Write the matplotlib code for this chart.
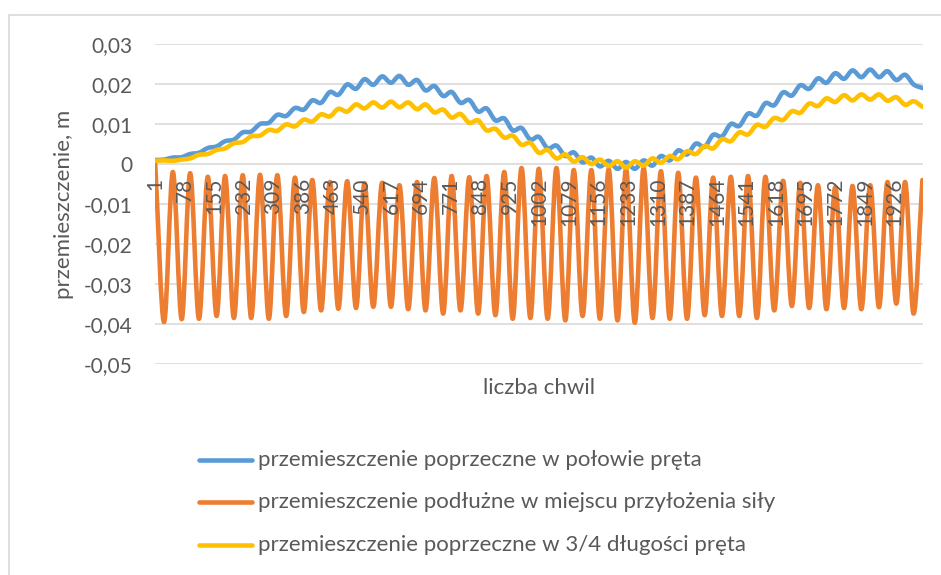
import matplotlib
matplotlib.use("Agg")  # headless
import matplotlib.pyplot as plt
from matplotlib.lines import Line2D
from matplotlib.patches import Rectangle, PathPatch
from matplotlib.path import Path

# sample indices (chwile) at the extremes of the fast oscillation
chwila = [1, 24, 47, 70, 92, 115, 138, 161, 183, 206, 229, 251, 274, 297, 319,
          342, 365, 388, 410, 433, 456, 478, 501, 524, 546, 569, 592, 615, 637,
          660, 683, 705, 728, 751, 773, 796, 819, 842, 864, 887, 910, 932, 955,
          978, 1000, 1023, 1046, 1069, 1091, 1114, 1137, 1159, 1182, 1205, 1227,
          1250, 1273, 1296, 1318, 1341, 1363, 1386, 1409, 1432, 1454, 1477, 1500,
          1522, 1545, 1568, 1590, 1613, 1636, 1659, 1681, 1704, 1727, 1749, 1772,
          1795, 1817, 1840, 1863, 1886, 1908, 1931, 1954, 1976, 1999]

# przemieszczenie poprzeczne w polowie preta
polowa = [0.0010, 0.0011, 0.0016, 0.0017, 0.0025, 0.0028, 0.0040, 0.0044, 0.0057,
          0.0061, 0.0079, 0.0081, 0.0100, 0.0103, 0.0123, 0.0120, 0.0140, 0.0136,
          0.0159, 0.0153, 0.0180, 0.0173, 0.0199, 0.0188, 0.0212, 0.0198, 0.0219,
          0.0203, 0.0220, 0.0198, 0.0210, 0.0184, 0.0195, 0.0170, 0.0180, 0.0153,
          0.0160, 0.0131, 0.0139, 0.0109, 0.0114, 0.0084, 0.0090, 0.0061, 0.0068,
          0.0039, 0.0046, 0.0020, 0.0029, 0.0004, 0.0016, -0.0006, 0.0008, -0.0012,
          0.0005, -0.0012, 0.0009, -0.0004, 0.0020, 0.0009, 0.0034, 0.0024, 0.0051,
          0.0043, 0.0073, 0.0069, 0.0100, 0.0095, 0.0126, 0.0121, 0.0152, 0.0147,
          0.0179, 0.0171, 0.0197, 0.0188, 0.0214, 0.0203, 0.0227, 0.0213, 0.0234,
          0.0217, 0.0236, 0.0217, 0.0232, 0.0210, 0.0223, 0.0199, 0.0190]

# przemieszczenie podluzne w miejscu przylozenia sily
podluzne = [0.0, -0.0395, -0.0020, -0.0388, -0.0023, -0.0387, -0.0032, -0.0380,
            -0.0030, -0.0385, -0.0028, -0.0385, -0.0027, -0.0387, -0.0028, -0.0380,
            -0.0034, -0.0370, -0.0040, -0.0366, -0.0045, -0.0362, -0.0043, -0.0360,
            -0.0048, -0.0357, -0.0047, -0.0357, -0.0053, -0.0363, -0.0045, -0.0366,
            -0.0035, -0.0374, -0.0030, -0.0366, -0.0033, -0.0374, -0.0030, -0.0378,
            -0.0020, -0.0387, -0.0010, -0.0385, -0.0012, -0.0387, -0.0010, -0.0391,
            -0.0015, -0.0380, -0.0015, -0.0387, -0.0013, -0.0391, -0.0012, -0.0397,
            -0.0010, -0.0385, -0.0018, -0.0387, -0.0022, -0.0387, -0.0034, -0.0378,
            -0.0034, -0.0380, -0.0032, -0.0380, -0.0030, -0.0385, -0.0032, -0.0366,
            -0.0042, -0.0355, -0.0047, -0.0360, -0.0053, -0.0363, -0.0058, -0.0360,
            -0.0055, -0.0363, -0.0053, -0.0358, -0.0045, -0.0349, -0.0045, -0.0374,
            -0.0040]

# przemieszczenie poprzeczne w 3/4 dlugosci preta
trzy_czwarte = [0.0008, 0.0009, 0.0008, 0.0011, 0.0014, 0.0023, 0.0025, 0.0035,
                0.0039, 0.0052, 0.0055, 0.0069, 0.0071, 0.0085, 0.0083, 0.0099,
                0.0094, 0.0111, 0.0106, 0.0124, 0.0119, 0.0138, 0.0131, 0.0149,
                0.0139, 0.0154, 0.0141, 0.0156, 0.0142, 0.0154, 0.0137, 0.0149,
                0.0129, 0.0136, 0.0116, 0.0125, 0.0103, 0.0109, 0.0084, 0.0088,
                0.0066, 0.0071, 0.0048, 0.0053, 0.0028, 0.0035, 0.0014, 0.0024,
                0.0006, 0.0017, 0.0000, 0.0011, -0.0005, 0.0007, -0.0009, 0.0007,
                -0.0004, 0.0014, 0.0003, 0.0020, 0.0012, 0.0032, 0.0025, 0.0045,
                0.0039, 0.0062, 0.0057, 0.0079, 0.0074, 0.0098, 0.0093, 0.0115,
                0.0110, 0.0132, 0.0128, 0.0151, 0.0145, 0.0164, 0.0155, 0.0172,
                0.0159, 0.0174, 0.0161, 0.0174, 0.0158, 0.0167, 0.0148, 0.0157,
                0.0143]

series_names = ["przemieszczenie poprzeczne w połowie pręta",
                "przemieszczenie podłużne w miejscu przyłożenia siły",
                "przemieszczenie poprzeczne w 3/4 długości pręta"]
series_colors = ["#5B9BD5", "#ED7D31", "#FFC000"]

x_ticks = [1, 78, 155, 232, 309, 386, 463, 540, 617, 694, 771, 848, 925, 1002,
           1079, 1156, 1233, 1310, 1387, 1464, 1541, 1618, 1695, 1772, 1849, 1926]
y_ticks = [-0.05, -0.04, -0.03, -0.02, -0.01, 0.0, 0.01, 0.02, 0.03]
y_labels = ["-0,05", "-0,04", "-0,03", "-0,02", "-0,01", "0", "0,01", "0,02", "0,03"]

TXT = "#595959"
GRID = "#D9D9D9"
FS = 16        # titles and legend
FS_TICK = 15   # tick labels
LW = 3.3
W, H = 941, 575


def smooth_path(xs, ys):
    # smoothed line (like Excel's "smoothed line"): cubic Bezier segments
    n = len(xs)
    slopes = []
    for i in range(n):
        a, b = max(i - 1, 0), min(i + 1, n - 1)
        slopes.append((ys[b] - ys[a]) / (xs[b] - xs[a]))
    verts = [(xs[0], ys[0])]
    codes = [Path.MOVETO]
    for i in range(n - 1):
        d = (xs[i + 1] - xs[i]) / 3
        verts += [(xs[i] + d, ys[i] + slopes[i] * d),
                  (xs[i + 1] - d, ys[i + 1] - slopes[i + 1] * d),
                  (xs[i + 1], ys[i + 1])]
        codes += [Path.CURVE4] * 3
    return Path(verts, codes)


plt.rcParams["font.family"] = ["Lato", "DejaVu Sans"]

fig = plt.figure(figsize=(W / 100, H / 100), dpi=100)
ax = fig.add_axes([155 / W, 1 - 364 / H, 768 / W, 320 / H])

# category axis crosses the value axis at 0 (set before ticks: it resets them)
ax.spines["bottom"].set_position(("data", 0))
for s in ax.spines.values():
    s.set_visible(False)

for vals, c in zip([polowa, podluzne, trzy_czwarte], series_colors):
    ax.add_patch(PathPatch(smooth_path(chwila, vals), fill=False, edgecolor=c,
                           lw=LW, capstyle="round", joinstyle="round"))

ax.set_xlim(0.5, 2000.5)
ax.set_ylim(-0.05, 0.03)
ax.set_yticks(y_ticks)
ax.set_yticklabels(y_labels)
ax.set_xticks(x_ticks)
ax.set_xticklabels([str(t) for t in x_ticks])

ax.tick_params(length=0, colors=TXT, labelsize=FS_TICK)
ax.tick_params(axis="y", pad=16.5)
ax.tick_params(axis="x", pad=10, labelrotation=90)
ax.grid(axis="y", color=GRID, lw=1.2)
ax.set_axisbelow(True)
ax.xaxis.set_zorder(5)  # category labels sit on top of the series, as in Excel

# axis titles
fig.text(64 / W, 1 - 204 / H, "przemieszczenie, m", rotation=90, ha="center",
         va="center", fontsize=FS, color=TXT)
fig.text(539 / W, 1 - 388 / H, "liczba chwil", ha="center", va="center",
         fontsize=FS, color=TXT)

# legend
for name, c, yy in zip(series_names, series_colors, [460, 502, 545]):
    fy = 1 - yy / H
    fig.add_artist(Line2D([199 / W, 252 / W], [fy, fy], color=c, lw=LW,
                          solid_capstyle="round"))
    fig.text(258 / W, fy, name, ha="left", va="center", fontsize=FS, color=TXT)

# chart area border
fig.add_artist(Rectangle((9 / W, -0.1), 1.2, 1.1 - 15 / H, fill=False,
                         edgecolor=GRID, lw=1.2, transform=fig.transFigure))

fig.savefig("out.png", dpi=100)
